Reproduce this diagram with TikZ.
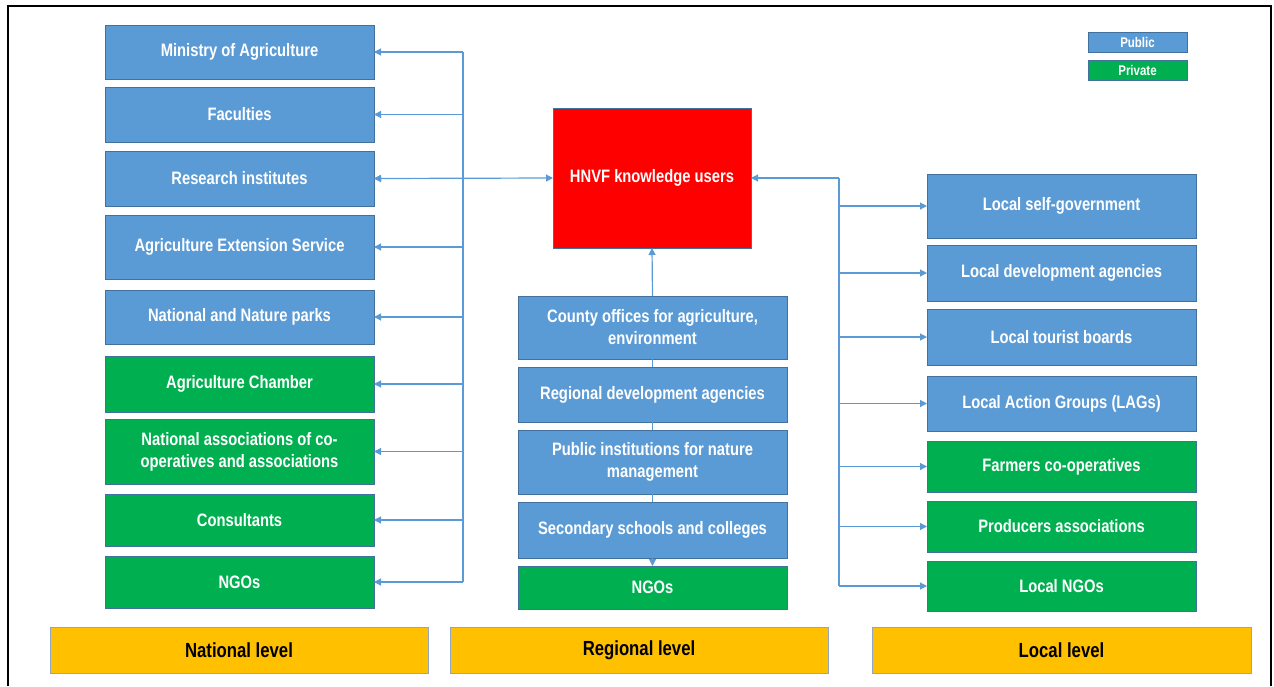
\documentclass[tikz,border=0pt]{standalone}
\usepackage{fontspec}
\setmainfont{Liberation Sans}[FakeStretch=0.82]
\usetikzlibrary{arrows.meta,backgrounds}
\definecolor{pubblue}{HTML}{5B9BD5}
\definecolor{privgreen}{HTML}{00B050}
\definecolor{levelyellow}{HTML}{FFC000}
\definecolor{edgeblue}{HTML}{41719C}
\definecolor{lvledge}{HTML}{8FA8BF}
\tikzset{
  base/.style={draw=edgeblue, line width=0.5pt, inner sep=0pt, outer sep=0pt, align=center, font=\bfseries\fontsize{9}{11}\selectfont, text=white},
  pub/.style={base, fill=pubblue},
  priv/.style={base, fill=privgreen},
  hnvf/.style={base, fill=red},
  lvl/.style={base, draw=lvledge, fill=levelyellow, text=black, font=\bfseries\fontsize{10.2}{12}\selectfont},
  leg/.style={base, font=\bfseries\fontsize{7}{8}\selectfont},
  conn/.style={draw=pubblue, line width=0.6pt},
  arr/.style={conn, -{Triangle[length=3.5pt,width=3.5pt]}},
  frame/.style={draw=black, line width=1pt}
}
\newcommand\mybox[7]{\node[#2, minimum width={(#5-#3)*0.5pt}, minimum height={(#6-#4)*0.5pt}] (#1) at ({(#3+#5)/2},{(#4+#6)/2}) {#7};}
\begin{document}
\begin{tikzpicture}[x=0.5pt,y=-0.5pt]
\useasboundingbox (0,0) rectangle (1274,686);
\draw[frame] (8,686) -- (8,6) -- (1271,6) -- (1271,686);
% left column
\mybox{min}{pub}{105}{25}{374}{79}{Ministry of Agriculture}
\mybox{fac}{pub}{105}{87}{374}{142}{Faculties}
\mybox{res}{pub}{105}{151}{374}{206}{Research institutes}
\mybox{ext}{pub}{105}{215}{374}{279}{Agriculture Extension Service}
\mybox{park}{pub}{105}{290}{374}{344}{National and Nature parks}
\mybox{cham}{priv}{105}{356}{374}{412}{Agriculture Chamber}
\mybox{nass}{priv}{105}{419}{374}{484}{National associations of co-\\operatives and associations}
\mybox{cons}{priv}{105}{494}{374}{546}{Consultants}
\mybox{lngo}{priv}{105}{556}{374}{608}{NGOs}
% centre column
\mybox{hnvf}{hnvf}{553}{108}{751}{248}{HNVF knowledge users}
\mybox{county}{pub}{518}{296}{787}{359}{County offices for agriculture,\\environment}
\mybox{rda}{pub}{518}{367}{787}{422}{Regional development agencies}
\mybox{pin}{pub}{518}{430}{787}{494}{Public institutions for nature\\management}
\mybox{sec}{pub}{518}{502}{787}{558}{Secondary schools and colleges}
\mybox{cngo}{priv}{518}{566}{787}{609}{NGOs}
% right column
\mybox{lsg}{pub}{927}{174}{1196}{238}{Local self-government}
\mybox{lda}{pub}{927}{245}{1196}{301}{Local development agencies}
\mybox{ltb}{pub}{927}{309}{1196}{365}{Local tourist boards}
\mybox{lag}{pub}{927}{376}{1196}{431}{Local Action Groups (LAGs)}
\mybox{fco}{priv}{927}{441}{1196}{492}{Farmers co-operatives}
\mybox{pas}{priv}{927}{501}{1196}{552}{Producers associations}
\mybox{rngo}{priv}{927}{561}{1196}{611}{Local NGOs}
% levels
\mybox{natl}{lvl}{50}{627}{428}{673}{National level}
\mybox{regl}{lvl}{450}{627}{828}{673}{Regional level}
\mybox{locl}{lvl}{872}{627}{1251}{673}{Local level}
% legend
\mybox{legpub}{leg,fill=pubblue}{1088}{32}{1187}{52}{Public}
\mybox{legpriv}{leg,fill=privgreen}{1088}{60}{1187}{80}{Private}
% connectors
\coordinate (lv) at (463,0);
\coordinate (rv) at (839,0);
\draw[conn] (min.east -| lv) -- (lngo.east -| lv);
\foreach \n in {min,fac,res,ext,park,cham,nass,cons,lngo}
  \draw[arr] (\n.east -| lv) -- (\n.east);
\draw[arr, {Triangle[length=3.5pt,width=3.5pt]}-{Triangle[length=3.5pt,width=3.5pt]}] (res.east) -- (hnvf.west);
\draw[conn] (hnvf.east -| rv) -- (rngo.west -| rv);
\draw[arr] (hnvf.east -| rv) -- (hnvf.east);
\foreach \n in {lsg,lda,ltb,lag,fco,pas,rngo}
  \draw[arr] (\n.west -| rv) -- (\n.west);
\draw[arr] (county.north) -- (hnvf.south);
\draw[conn] (county.south) -- (rda.north);
\draw[conn] (rda.south) -- (pin.north);
\draw[conn] (pin.south) -- (sec.north);
\draw[arr] (sec.south) -- (cngo.north);
\end{tikzpicture}
\end{document}
